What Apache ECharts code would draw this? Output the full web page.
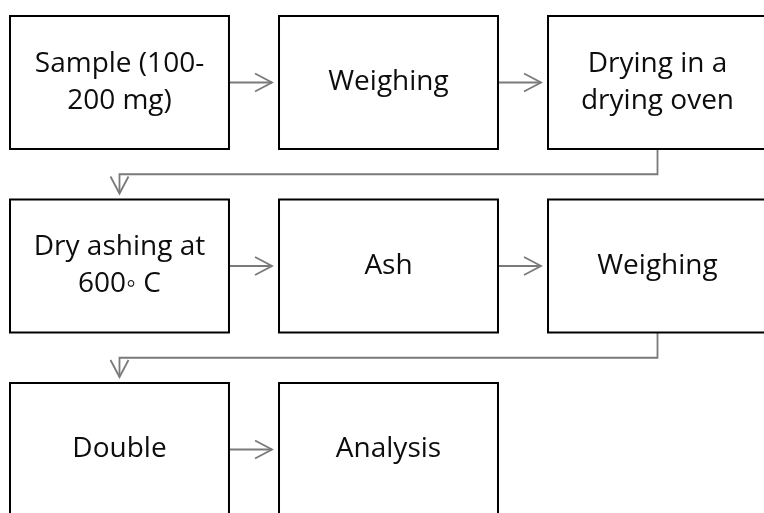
<!DOCTYPE html>
<html>
<head>
<meta charset="utf-8">
<title>Flow</title>
<script src="https://cdn.jsdelivr.net/npm/echarts@6/dist/echarts.min.js"></script>
<style>
  html, body { margin: 0; padding: 0; background: #fff; }
  #chart { width: 764px; height: 513px; }
</style>
</head>
<body>
<div id="chart"></div>
<script>
// steps of the procedure, with their column / row in the flow grid
const steps = [
  'Sample (100-\n200 mg)',
  'Weighing',
  'Drying in a\ndrying oven',
  'Dry ashing at\n600\u25E6 C',
  'Ash',
  'Weighing',
  'Double',
  'Analysis'
];
const stepCols = [0, 1, 2, 0, 1, 2, 0, 1];
const stepRows = [0, 0, 0, 1, 1, 1, 2, 2];

// box size as a share of one grid cell
const BOX_W = 0.814;
const BOX_H = 0.725;

const chart = echarts.init(document.getElementById('chart'));

const boxData = steps.map((s, i) => [stepCols[i], stepRows[i], i]);
const linkData = [];
for (let i = 0; i < steps.length - 1; i++) {
  linkData.push([stepCols[i], stepRows[i], stepCols[i + 1], stepRows[i + 1]]);
}

function renderBox(params, api) {
  const c = api.coord([api.value(0), api.value(1)]);
  const cell = api.size([1, 1]);
  const w = cell[0] * BOX_W;
  const h = cell[1] * BOX_H;
  const label = steps[api.value(2)];
  return {
    type: 'group',
    children: [
      {
        type: 'rect',
        shape: { x: c[0] - w / 2, y: c[1] - h / 2, width: w, height: h },
        style: { fill: '#fff', stroke: '#000', lineWidth: 2 }
      },
      {
        type: 'text',
        style: {
          x: c[0],
          y: c[1],
          text: label,
          fill: '#0d0d0d',
          font: '28px "Open Sans"',
          lineHeight: 37,
          align: 'center',
          verticalAlign: 'middle',
          textAlign: 'center',
          textVerticalAlign: 'middle'
        }
      }
    ]
  };
}

function renderLink(params, api) {
  const p1 = api.coord([api.value(0), api.value(1)]);
  const p2 = api.coord([api.value(2), api.value(3)]);
  const cell = api.size([1, 1]);
  const hw = cell[0] * BOX_W / 2;
  const hh = cell[1] * BOX_H / 2;
  let pts, head;
  if (api.value(1) === api.value(3)) {
    const tip = [p2[0] - hw - 7, p2[1]];
    pts = [[p1[0] + hw, p1[1]], tip];
    head = [[tip[0] - 17, tip[1] - 9], tip, [tip[0] - 17, tip[1] + 9]];
  } else {
    const midY = (p1[1] + p2[1]) / 2;
    const tip = [p2[0], p2[1] - hh - 6];
    pts = [[p1[0], p1[1] + hh], [p1[0], midY], [p2[0], midY], tip];
    head = [[tip[0] - 9, tip[1] - 17], tip, [tip[0] + 9, tip[1] - 17]];
  }
  const st = { fill: null, stroke: '#7a7a7a', lineWidth: 1.8 };
  return {
    type: 'group',
    children: [
      { type: 'polyline', shape: { points: pts }, style: st },
      { type: 'polyline', shape: { points: head }, style: st }
    ]
  };
}

chart.setOption({
  animation: false,
  grid: { left: 0, right: 0, top: 0, bottom: 0 },
  xAxis: { type: 'value', min: -0.4442, max: 2.3959, show: false },
  yAxis: { type: 'value', min: -0.4496, max: 2.346, inverse: true, show: false },
  series: [
    {
      type: 'custom',
      renderItem: renderLink,
      encode: { x: [0, 2], y: [1, 3] },
      data: linkData,
      silent: true
    },
    {
      type: 'custom',
      renderItem: renderBox,
      encode: { x: 0, y: 1 },
      data: boxData,
      silent: true
    }
  ]
});
</script>
</body>
</html>
